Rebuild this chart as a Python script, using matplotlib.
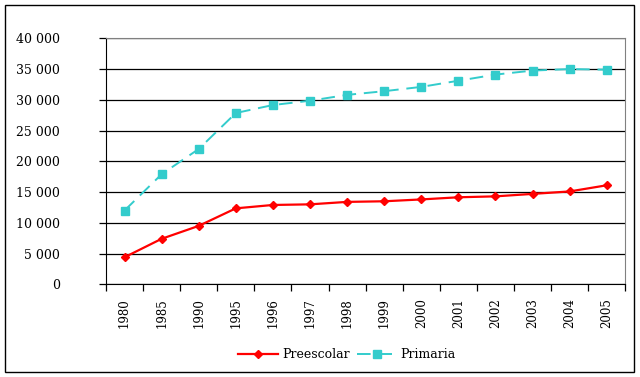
import numpy as np
import matplotlib as mpl
mpl.use("Agg")
import matplotlib.pyplot as plt
from matplotlib.ticker import FuncFormatter, FixedLocator

years = ["1980", "1985", "1990", "1995", "1996", "1997", "1998", "1999",
         "2000", "2001", "2002", "2003", "2004", "2005"]
preescolar = [4400, 7400, 9500, 12350, 12900, 13000, 13400, 13500,
              13800, 14150, 14300, 14700, 15100, 16100]
primaria = [12000, 17900, 22000, 27850, 29150, 29850, 30800, 31400,
            32100, 33100, 34100, 34750, 35000, 34900]

plt.rcParams['font.family'] = ['DejaVu Serif']

fig = plt.figure(figsize=(6.4, 3.77), dpi=100)
ax = fig.add_axes([106/640, 1 - 284.3/377, (625.3-106)/640, (284.3-38.3)/377])

x = np.arange(len(years))
ax.plot(x, preescolar, color="#ff0000", lw=1.6, marker="D", ms=4,
        label="Preescolar", zorder=3)
ax.plot(x, primaria, color="#33cccc", lw=1.4, ls=(0, (7, 4)), marker="s", ms=5.5,
        label="Primaria", zorder=3)

ax.set_xlim(-0.5, len(years) - 0.5)
ax.set_ylim(0, 40000)
ax.set_yticks(np.arange(0, 40001, 5000))
ax.yaxis.set_major_formatter(FuncFormatter(lambda v, p: f"{int(v):,}".replace(",", " ")))
ax.grid(axis="y", color="black", lw=0.9)
ax.set_axisbelow(True)

ax.set_xticks(x)
ax.set_xticklabels(years, rotation=90, fontsize=8.5)
ax.xaxis.set_minor_locator(FixedLocator(np.arange(-0.5, len(years), 1)))
ax.tick_params(axis="x", which="major", length=0, pad=10)
ax.tick_params(axis="x", which="minor", length=5, width=0.9, direction="out")
ax.tick_params(axis="y", length=5, width=0.9, labelsize=9, pad=28)

for s in ["top", "right"]:
    ax.spines[s].set_color("#808080")
for s in ["left", "bottom"]:
    ax.spines[s].set_color("black")

fig.legend(loc="center", bbox_to_anchor=(347/640, 1 - 355/377), ncol=2, frameon=False,
           fontsize=9, handlelength=3.2, columnspacing=0.6, handletextpad=0.3)

border = plt.Rectangle((5/640, 1 - 372/377), 629/640, 367/377, transform=fig.transFigure,
                       fill=False, edgecolor="black", lw=1)
fig.patches.append(border)

fig.savefig("out.png", dpi=100)
